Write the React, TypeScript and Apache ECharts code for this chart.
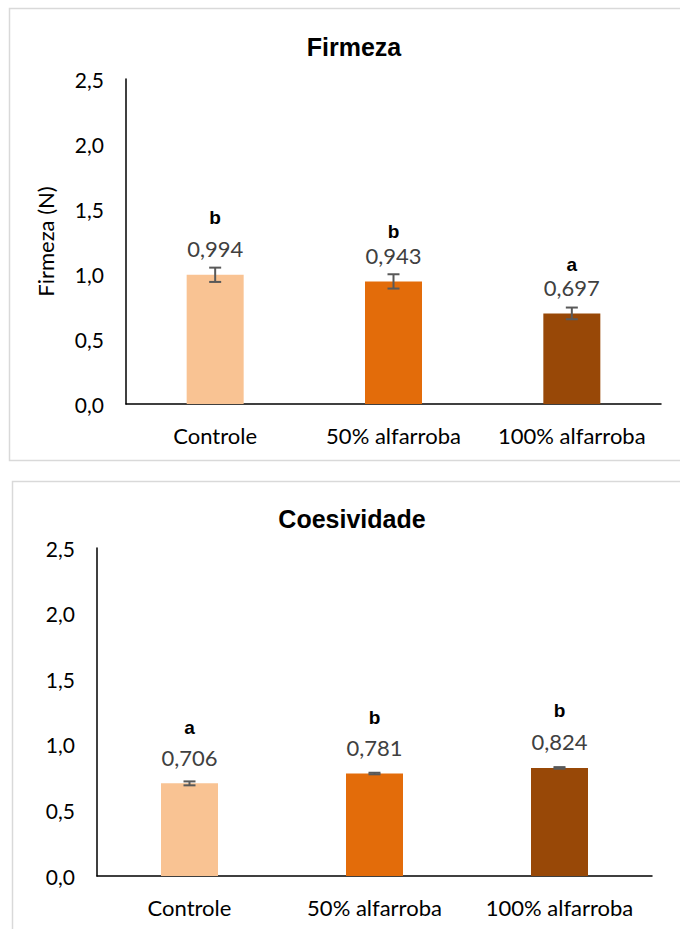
import React, { useEffect, useRef } from "react";
import * as echarts from "echarts";

const categories = ["Controle", "50% alfarroba", "100% alfarroba"];
const barColors = ["#F9C393", "#E36C0A", "#984807"];

const firmezaValues = [0.994, 0.943, 0.697];
const firmezaErrors = [0.055, 0.055, 0.045];
const firmezaLetters = ["b", "b", "a"];
const firmezaLetterGaps = [31, 24, 23];

const coesValues = [0.706, 0.781, 0.824];
const coesErrors = [0.015, 0.006, 0.006];
const coesLetters = ["a", "b", "b"];
const coesLetterGaps = [30, 30, 31];

const yTicks = { min: 0, max: 2.5, interval: 0.5 };

const FONT = "Lato";
const fmt = (v: number, d: number) => v.toFixed(d).replace(".", ",");

function errSeries(gridIdx: number, values: number[], errors: number[], letters: string[], gaps: number[]) {
  return {
    type: "custom",
    xAxisIndex: gridIdx,
    yAxisIndex: gridIdx,
    z: 5,
    data: values.map((v, i) => [i, v, errors[i]]),
    encode: { x: 0, y: 1 },
    renderItem: (params: any, api: any) => {
      const x = api.value(0);
      const v = api.value(1);
      const e = api.value(2);
      const hi = api.coord([x, v + e]);
      const lo = api.coord([x, v - e]);
      const top = api.coord([x, v]);
      const half = 6;
      const st = { stroke: "#595959", lineWidth: 2 };
      const labelCenter = top[1] - 26;
      return {
        type: "group",
        children: [
          { type: "line", shape: { x1: hi[0], y1: hi[1], x2: lo[0], y2: lo[1] }, style: st },
          { type: "line", shape: { x1: hi[0] - half, y1: hi[1], x2: hi[0] + half, y2: hi[1] }, style: st },
          { type: "line", shape: { x1: lo[0] - half, y1: lo[1], x2: lo[0] + half, y2: lo[1] }, style: st },
          {
            type: "text",
            x: top[0],
            y: labelCenter - gaps[params.dataIndex],
            style: {
              text: letters[params.dataIndex],
              align: "center",
              verticalAlign: "middle",
              fontSize: 19,
              lineHeight: 16,
              fontWeight: "bold",
              fontFamily: "Liberation Sans",
              fill: "#000",
            },
          },
        ],
      };
    },
  };
}

function barSeries(gridIdx: number, values: number[]) {
  return {
    type: "bar",
    xAxisIndex: gridIdx,
    yAxisIndex: gridIdx,
    barWidth: 57,
    data: values.map((v, i) => ({ value: v, itemStyle: { color: barColors[i] } })),
    label: {
      show: true,
      position: "top",
      distance: 16,
      formatter: (p: any) => fmt(p.value, 3),
      color: "#404040",
      fontSize: 22,
      lineHeight: 20,
      fontFamily: FONT,
    },
  };
}

function xAx(gridIdx: number) {
  return {
    type: "category",
    gridIndex: gridIdx,
    data: categories,
    axisLine: { lineStyle: { color: "#000", width: 1.5 } },
    axisTick: { show: false },
    axisLabel: { color: "#000", fontSize: 22, fontFamily: FONT, margin: 20, interval: 0 },
  };
}

function yAx(gridIdx: number, name?: string) {
  return {
    type: "value",
    gridIndex: gridIdx,
    min: yTicks.min,
    max: yTicks.max,
    interval: yTicks.interval,
    name: name || "",
    nameLocation: "middle",
    nameRotate: 90,
    nameGap: 70,
    nameTextStyle: { color: "#000", fontSize: 22, fontFamily: FONT },
    axisLine: { show: true, lineStyle: { color: "#000", width: 1.5 } },
    axisTick: { show: false },
    splitLine: { show: false },
    axisLabel: { color: "#000", fontSize: 21, fontFamily: FONT, margin: 22, formatter: (v: number) => fmt(v, 1) },
  };
}

export default function App() {
  const ref = useRef<HTMLDivElement>(null);
  useEffect(() => {
    if (!ref.current) return;
    const chart = echarts.init(ref.current, null, { renderer: "svg" });
    chart.setOption({
      animation: false,
      backgroundColor: "#fff",
      title: [
        {
          text: "Firmeza",
          left: 354,
          top: 34,
          textAlign: "center",
          padding: 0,
          textStyle: { fontSize: 25, fontWeight: "bold", fontFamily: "Liberation Sans", color: "#000" },
        },
        {
          text: "Coesividade",
          left: 352,
          top: 506,
          textAlign: "center",
          padding: 0,
          textStyle: { fontSize: 25, fontWeight: "bold", fontFamily: "Liberation Sans", color: "#000" },
        },
      ],
      graphic: [
        {
          type: "rect",
          z: -10,
          shape: { x: 9.5, y: 8.5, width: 700, height: 452 },
          style: { fill: "none", stroke: "#d9d9d9", lineWidth: 1.5 },
        },
        {
          type: "rect",
          z: -10,
          shape: { x: 12.5, y: 481.5, width: 700, height: 520 },
          style: { fill: "none", stroke: "#d9d9d9", lineWidth: 1.5 },
        },
      ],
      grid: [
        { left: 126, top: 79, width: 535, height: 325 },
        { left: 97, top: 548, width: 555, height: 328 },
      ],
      xAxis: [xAx(0), xAx(1)],
      yAxis: [yAx(0, "Firmeza (N)"), yAx(1)],
      series: [
        barSeries(0, firmezaValues),
        errSeries(0, firmezaValues, firmezaErrors, firmezaLetters, firmezaLetterGaps),
        barSeries(1, coesValues),
        errSeries(1, coesValues, coesErrors, coesLetters, coesLetterGaps),
      ],
    });
    return () => chart.dispose();
  }, []);
  return <div ref={ref} style={{ position: "fixed", left: 0, top: 0, width: 680, height: 929 }} />;
}
